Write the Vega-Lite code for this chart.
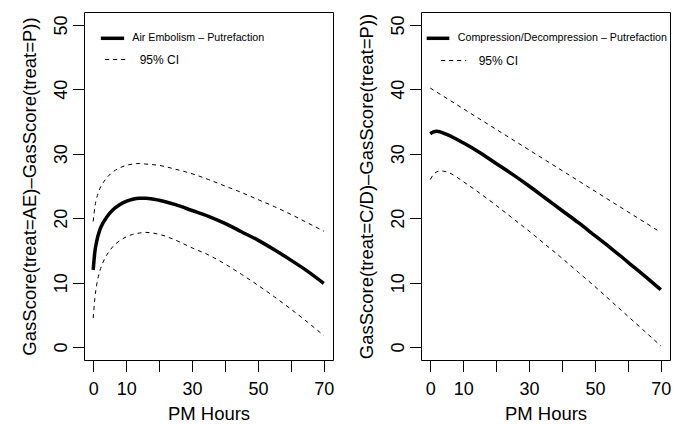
{
  "$schema": "https://vega.github.io/schema/vega-lite/v6.json",
  "padding": {"left": 20, "top": 11, "right": 5, "bottom": 5},
  "config": {
    "view": {"stroke": "black", "strokeWidth": 1},
    "font": "Liberation Sans",
    "axis": {"grid": false, "domain": false, "tickColor": "black", "tickSize": 11.5, "labelFontSize": 18, "titleFontSize": 18.5, "titleFontWeight": "normal", "labelColor": "black", "titleColor": "black", "labelFont": "Liberation Sans", "titleFont": "Liberation Sans", "labelFlush": false, "labelOverlap": false},
    "axisX": {"labelPadding": 9, "titlePadding": 6, "labelAngle": 0},
    "axisY": {"labelAngle": 270, "labelAlign": "center", "labelBaseline": "alphabetic", "labelPadding": 6, "titlePadding": 13},
    "legend": {"padding": 0, "orient": "none", "labelFont": "Liberation Sans", "labelColor": "black", "labelLimit": 500}
  },
  "datasets": {
    "ae": [
      {"x": 0, "y": 12.0, "band": "fit"}, {"x": 0.5, "y": 14.8, "band": "fit"}, {"x": 1, "y": 16.3, "band": "fit"}, {"x": 2, "y": 18.2, "band": "fit"}, {"x": 3, "y": 19.3, "band": "fit"}, {"x": 4, "y": 20.1, "band": "fit"}, {"x": 6, "y": 21.3, "band": "fit"}, {"x": 8, "y": 22.1, "band": "fit"}, {"x": 10, "y": 22.6, "band": "fit"}, {"x": 12, "y": 22.95, "band": "fit"}, {"x": 14, "y": 23.1, "band": "fit"}, {"x": 16, "y": 23.1, "band": "fit"}, {"x": 20, "y": 22.8, "band": "fit"}, {"x": 25, "y": 22.1, "band": "fit"}, {"x": 30, "y": 21.2, "band": "fit"}, {"x": 35, "y": 20.3, "band": "fit"}, {"x": 40, "y": 19.2, "band": "fit"}, {"x": 45, "y": 17.9, "band": "fit"}, {"x": 50, "y": 16.6, "band": "fit"}, {"x": 55, "y": 15.1, "band": "fit"}, {"x": 60, "y": 13.5, "band": "fit"}, {"x": 65, "y": 11.8, "band": "fit"}, {"x": 70, "y": 9.9, "band": "fit"},
      {"x": 0, "y": 19.5, "band": "upper"}, {"x": 0.5, "y": 21.8, "band": "upper"}, {"x": 1, "y": 23.0, "band": "upper"}, {"x": 2, "y": 24.6, "band": "upper"}, {"x": 3, "y": 25.5, "band": "upper"}, {"x": 4, "y": 26.2, "band": "upper"}, {"x": 6, "y": 27.2, "band": "upper"}, {"x": 8, "y": 27.8, "band": "upper"}, {"x": 10, "y": 28.2, "band": "upper"}, {"x": 12, "y": 28.4, "band": "upper"}, {"x": 14, "y": 28.5, "band": "upper"}, {"x": 16, "y": 28.4, "band": "upper"}, {"x": 20, "y": 28.2, "band": "upper"}, {"x": 25, "y": 27.6, "band": "upper"}, {"x": 30, "y": 26.9, "band": "upper"}, {"x": 35, "y": 26.0, "band": "upper"}, {"x": 40, "y": 25.0, "band": "upper"}, {"x": 45, "y": 24.0, "band": "upper"}, {"x": 50, "y": 22.9, "band": "upper"}, {"x": 55, "y": 21.8, "band": "upper"}, {"x": 60, "y": 20.6, "band": "upper"}, {"x": 65, "y": 19.3, "band": "upper"}, {"x": 70, "y": 18.0, "band": "upper"},
      {"x": 0, "y": 4.5, "band": "lower"}, {"x": 0.5, "y": 7.6, "band": "lower"}, {"x": 1, "y": 9.5, "band": "lower"}, {"x": 2, "y": 11.8, "band": "lower"}, {"x": 3, "y": 13.2, "band": "lower"}, {"x": 4, "y": 14.2, "band": "lower"}, {"x": 6, "y": 15.6, "band": "lower"}, {"x": 8, "y": 16.5, "band": "lower"}, {"x": 10, "y": 17.1, "band": "lower"}, {"x": 12, "y": 17.5, "band": "lower"}, {"x": 14, "y": 17.7, "band": "lower"}, {"x": 16, "y": 17.8, "band": "lower"}, {"x": 20, "y": 17.5, "band": "lower"}, {"x": 25, "y": 16.6, "band": "lower"}, {"x": 30, "y": 15.4, "band": "lower"}, {"x": 35, "y": 14.3, "band": "lower"}, {"x": 40, "y": 12.9, "band": "lower"}, {"x": 45, "y": 11.3, "band": "lower"}, {"x": 50, "y": 9.6, "band": "lower"}, {"x": 55, "y": 7.8, "band": "lower"}, {"x": 60, "y": 5.9, "band": "lower"}, {"x": 65, "y": 3.9, "band": "lower"}, {"x": 70, "y": 1.8, "band": "lower"}
    ],
    "cd": [
      {"x": 0, "y": 33.1, "band": "fit"}, {"x": 1, "y": 33.4, "band": "fit"}, {"x": 2, "y": 33.5, "band": "fit"}, {"x": 3, "y": 33.4, "band": "fit"}, {"x": 5, "y": 33.0, "band": "fit"}, {"x": 10, "y": 31.7, "band": "fit"}, {"x": 15, "y": 30.2, "band": "fit"}, {"x": 20, "y": 28.5, "band": "fit"}, {"x": 25, "y": 26.8, "band": "fit"}, {"x": 30, "y": 25.0, "band": "fit"}, {"x": 35, "y": 23.1, "band": "fit"}, {"x": 40, "y": 21.2, "band": "fit"}, {"x": 45, "y": 19.3, "band": "fit"}, {"x": 50, "y": 17.3, "band": "fit"}, {"x": 55, "y": 15.3, "band": "fit"}, {"x": 60, "y": 13.2, "band": "fit"}, {"x": 65, "y": 11.1, "band": "fit"}, {"x": 70, "y": 8.9, "band": "fit"},
      {"x": 0, "y": 40.2, "band": "upper"}, {"x": 10, "y": 37.0, "band": "upper"}, {"x": 20, "y": 33.8, "band": "upper"}, {"x": 30, "y": 30.6, "band": "upper"}, {"x": 40, "y": 27.4, "band": "upper"}, {"x": 50, "y": 24.2, "band": "upper"}, {"x": 60, "y": 21.0, "band": "upper"}, {"x": 70, "y": 17.8, "band": "upper"},
      {"x": 0, "y": 26.0, "band": "lower"}, {"x": 1, "y": 26.8, "band": "lower"}, {"x": 2, "y": 27.2, "band": "lower"}, {"x": 3, "y": 27.35, "band": "lower"}, {"x": 4, "y": 27.3, "band": "lower"}, {"x": 6, "y": 27.0, "band": "lower"}, {"x": 8, "y": 26.4, "band": "lower"}, {"x": 10, "y": 25.7, "band": "lower"}, {"x": 15, "y": 23.9, "band": "lower"}, {"x": 20, "y": 22.0, "band": "lower"}, {"x": 25, "y": 20.0, "band": "lower"}, {"x": 30, "y": 18.0, "band": "lower"}, {"x": 35, "y": 15.9, "band": "lower"}, {"x": 40, "y": 13.8, "band": "lower"}, {"x": 45, "y": 11.6, "band": "lower"}, {"x": 50, "y": 9.4, "band": "lower"}, {"x": 55, "y": 7.1, "band": "lower"}, {"x": 60, "y": 4.8, "band": "lower"}, {"x": 65, "y": 2.5, "band": "lower"}, {"x": 70, "y": 0.2, "band": "lower"}
    ]
  },
  "bounds": "flush",
  "spacing": 88,
  "hconcat": [
    {
      "width": 249, "height": 348,
      "data": {"name": "ae"},
      "encoding": {
        "x": {"field": "x", "type": "quantitative", "scale": {"domain": [-2.8, 72.8], "nice": false, "zero": false}, "axis": {"values": [0, 10, 20, 30, 40, 50, 60, 70], "labelExpr": "indexof([20,40,60], datum.value) >= 0 ? '' : datum.label", "title": "PM Hours"}},
        "y": {"field": "y", "type": "quantitative", "scale": {"domain": [-2, 52], "nice": false, "zero": false}, "axis": {"values": [0, 10, 20, 30, 40, 50], "title": "GasScore(treat=AE)–GasScore(treat=P))"}}
      },
      "layer": [
        {
          "transform": [{"filter": "datum.band == 'fit'"}],
          "mark": {"type": "line", "strokeWidth": 3.5, "interpolate": "monotone"},
          "encoding": {
            "color": {"datum": "Air Embolism – Putrefaction", "type": "nominal", "scale": {"range": ["black"]}, "legend": {"title": null, "legendX": 15, "legendY": 12.8, "symbolType": "stroke", "symbolSize": 543, "symbolStrokeWidth": 3.5, "symbolStrokeColor": "black", "labelFontSize": 10.7, "labelOffset": 6.3}}
          }
        },
        {
          "transform": [{"filter": "datum.band != 'fit'"}],
          "mark": {"type": "line", "color": "black", "strokeWidth": 1, "interpolate": "monotone"},
          "encoding": {
            "detail": {"field": "band"},
            "strokeDash": {"datum": "95% CI", "type": "nominal", "scale": {"range": [[4, 4]]}, "legend": {"title": null, "legendX": 20.7, "legendY": 35.5, "symbolType": "stroke", "symbolSize": 529, "symbolStrokeWidth": 1, "symbolStrokeColor": "black", "labelFontSize": 12, "labelOffset": 11}}
          }
        }
      ]
    },
    {
      "width": 249, "height": 348,
      "data": {"name": "cd"},
      "encoding": {
        "x": {"field": "x", "type": "quantitative", "scale": {"domain": [-2.8, 72.8], "nice": false, "zero": false}, "axis": {"values": [0, 10, 20, 30, 40, 50, 60, 70], "labelExpr": "indexof([20,40,60], datum.value) >= 0 ? '' : datum.label", "title": "PM Hours"}},
        "y": {"field": "y", "type": "quantitative", "scale": {"domain": [-2, 52], "nice": false, "zero": false}, "axis": {"values": [0, 10, 20, 30, 40, 50], "title": "GasScore(treat=C/D)–GasScore(treat=P))"}}
      },
      "layer": [
        {
          "transform": [{"filter": "datum.band == 'fit'"}],
          "mark": {"type": "line", "strokeWidth": 3.5, "interpolate": "monotone"},
          "encoding": {
            "color": {"datum": "Compression/Decompression – Putrefaction", "type": "nominal", "scale": {"range": ["black"]}, "legend": {"title": null, "legendX": 3.5, "legendY": 12.8, "symbolType": "stroke", "symbolSize": 515, "symbolStrokeWidth": 3.5, "symbolStrokeColor": "black", "labelFontSize": 10.7, "labelOffset": 6.3}}
          }
        },
        {
          "transform": [{"filter": "datum.band != 'fit'"}],
          "mark": {"type": "line", "color": "black", "strokeWidth": 1, "interpolate": "monotone"},
          "encoding": {
            "detail": {"field": "band"},
            "strokeDash": {"datum": "95% CI", "type": "nominal", "scale": {"range": [[4, 4]]}, "legend": {"title": null, "legendX": 19.7, "legendY": 35.5, "symbolType": "stroke", "symbolSize": 625, "symbolStrokeWidth": 1, "symbolStrokeColor": "black", "labelFontSize": 12, "labelOffset": 12}}
          }
        }
      ]
    }
  ],
  "resolve": {"scale": {"color": "independent", "strokeDash": "independent"}, "legend": {"color": "independent", "strokeDash": "independent"}}
}
